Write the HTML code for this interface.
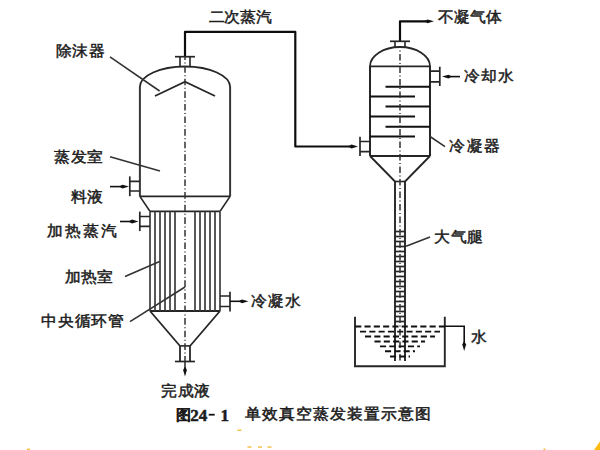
<!DOCTYPE html>
<html><head><meta charset="utf-8"><style>
html,body{margin:0;padding:0;background:#fff;width:600px;height:450px;overflow:hidden}
svg{display:block}
text{font-family:"Liberation Sans",sans-serif;fill:#1c1c1c;stroke:#1c1c1c;stroke-width:0.4px}
</style></head><body>
<svg width="600" height="450" viewBox="0 0 600 450">
<g fill="none" stroke="#262626" stroke-linecap="butt">
<path d="M185,57 V31.8 H295.3 V146.5 H350" stroke-width="2.2" stroke="#0d0d0d" stroke-linejoin="round"/>
<path d="M348,146.5 L351.5,144.6 L358,146.5 L351.5,148.4 Z" fill="#111" stroke="none"/>
<path d="M175,56.7 H195" stroke-width="1.7" />
<path d="M180,56.7 V66.6 M190,56.7 V66.6" stroke-width="1.6" />
<path d="M139.9,87 A45.1,20.5 0 0 1 230.1,87" stroke-width="1.8" />
<path d="M139.9,86.5 V196.4 M230.1,86.5 V196.4" stroke-width="2.0" stroke="#383838" />
<path d="M139.9,196.4 H230.1" stroke-width="1.9" />
<path d="M139.9,196.4 L150,211.4 M230.1,196.4 L220,211.4" stroke-width="1.7" />
<path d="M150,211.4 H220" stroke-width="1.9" />
<path d="M150,311 H220" stroke-width="1.9" />
<path d="M150,211.4 V311" stroke-width="1.7" stroke="#3c3c3c" />
<path d="M155,211.4 V311" stroke-width="1.7" stroke="#3c3c3c" />
<path d="M160,211.4 V311" stroke-width="1.7" stroke="#3c3c3c" />
<path d="M165,211.4 V311" stroke-width="1.7" stroke="#3c3c3c" />
<path d="M170,211.4 V311" stroke-width="1.7" stroke="#3c3c3c" />
<path d="M175,211.4 V311" stroke-width="1.7" stroke="#3c3c3c" />
<path d="M195,211.4 V311" stroke-width="1.7" stroke="#3c3c3c" />
<path d="M200,211.4 V311" stroke-width="1.7" stroke="#3c3c3c" />
<path d="M205,211.4 V311" stroke-width="1.7" stroke="#3c3c3c" />
<path d="M210,211.4 V311" stroke-width="1.7" stroke="#3c3c3c" />
<path d="M215,211.4 V311" stroke-width="1.7" stroke="#3c3c3c" />
<path d="M220,211.4 V311" stroke-width="1.7" stroke="#3c3c3c" />
<path d="M150,311 L180,346 M220,311 L190,346" stroke-width="1.8" />
<path d="M180,346 V361.5 M190,346 V361.5" stroke-width="1.8" />
<path d="M180,345.9 H190" stroke-width="1.6" />
<path d="M175,361.5 H195" stroke-width="1.7" />
<path d="M185,361.5 V369" stroke-width="1.5" />
<path d="M185,366.5 L183.1,370.0 L185,376.5 L186.9,370.0 Z" fill="#111" stroke="none"/>
<path d="M155,96 L185,81.7 L215,96" stroke-width="1.8" />
<path d="M129.8,176.4 V196.2" stroke-width="1.7" />
<path d="M129.8,181.3 H139.9 M129.8,191 H139.9" stroke-width="1.7" />
<path d="M110,186.6 H122" stroke-width="1.6" stroke="#111" />
<path d="M119,186.6 L122.5,184.7 L129,186.6 L122.5,188.5 Z" fill="#111" stroke="none"/>
<path d="M139.8,211.6 V231.1" stroke-width="1.7" />
<path d="M139.8,216.5 H150 M139.8,226.4 H150" stroke-width="1.7" />
<path d="M120,221.5 H131" stroke-width="1.6" stroke="#111" />
<path d="M128.5,221.5 L132.0,219.6 L138.5,221.5 L132.0,223.4 Z" fill="#111" stroke="none"/>
<path d="M230,291.7 V311.5" stroke-width="1.7" />
<path d="M220,296 H230 M220,306.5 H230" stroke-width="1.7" />
<path d="M230,301.3 H241" stroke-width="1.6" stroke="#111" />
<path d="M238.5,301.3 L242.0,299.40000000000003 L248.5,301.3 L242.0,303.2 Z" fill="#111" stroke="none"/>
<path d="M185,57 V361" stroke-width="1.5" stroke="#333" stroke-dasharray="6.6 2.5 1 2.5" stroke-dashoffset="3.5"/>
<path d="M110,56.8 L159.6,91" stroke-width="1.6" stroke="#333" />
<path d="M110,156.7 L160,171.1" stroke-width="1.6" stroke="#333" />
<path d="M125,276.4 L159.6,261.6" stroke-width="1.6" stroke="#333" />
<path d="M130,321.6 L185,287" stroke-width="1.6" stroke="#333" />
<path d="M400,41.3 V21.3 H426" stroke-width="2.2" stroke="#0d0d0d" stroke-linejoin="round"/>
<path d="M424,21.3 L427.5,19.400000000000002 L434,21.3 L427.5,23.2 Z" fill="#111" stroke="none"/>
<path d="M390,41.3 H410" stroke-width="1.7" />
<path d="M395,41.3 V47 M405,41.3 V47" stroke-width="1.6" />
<path d="M370,66.3 A30,19.3 0 0 1 430,66.3" stroke-width="1.8" />
<path d="M370,66.3 H430" stroke-width="1.8" />
<path d="M370,66 V156 M430,66 V156" stroke-width="2.0" />
<path d="M385.5,86.7 H430" stroke-width="2.0" stroke="#111" />
<path d="M385.5,106.6 H430" stroke-width="2.0" stroke="#111" />
<path d="M385.5,126.7 H430" stroke-width="2.0" stroke="#111" />
<path d="M370,96.4 H415" stroke-width="2.0" stroke="#111" />
<path d="M370,116.5 H415" stroke-width="2.0" stroke="#111" />
<path d="M370,136.5 H415" stroke-width="2.0" stroke="#111" />
<path d="M370,156 H430" stroke-width="1.9" />
<path d="M370,156 L395,181.5 M430,156 L405,181.5" stroke-width="1.8" />
<path d="M395,181.5 H405" stroke-width="1.6" />
<path d="M395,181.5 V361 M405,181.5 V361" stroke-width="1.9" />
<path d="M395,231.5 H405" stroke-width="1.7" />
<path d="M395,236.5 H405" stroke-width="1.7" />
<path d="M395,241.5 H405" stroke-width="1.7" />
<path d="M395,246.5 H405" stroke-width="1.7" />
<path d="M395,251.5 H405" stroke-width="1.7" />
<path d="M395,256.5 H405" stroke-width="1.7" />
<path d="M395,261.5 H405" stroke-width="1.7" />
<path d="M395,266.5 H405" stroke-width="1.7" />
<path d="M395,271.5 H405" stroke-width="1.7" />
<path d="M395,276.5 H405" stroke-width="1.7" />
<path d="M395,281.5 H405" stroke-width="1.7" />
<path d="M395,286.5 H405" stroke-width="1.7" />
<path d="M395,291.5 H405" stroke-width="1.7" />
<path d="M395,296.5 H405" stroke-width="1.7" />
<path d="M395,301.5 H405" stroke-width="1.7" />
<path d="M395,306.5 H405" stroke-width="1.7" />
<path d="M395,311.5 H405" stroke-width="1.7" />
<path d="M395,316.5 H405" stroke-width="1.7" />
<path d="M395,321.5 H405" stroke-width="1.7" />
<path d="M400,47 V361" stroke-width="1.5" stroke="#333" stroke-dasharray="6.5 2.5 1 2.5" stroke-dashoffset="5.5"/>
<path d="M439.8,66.7 V86" stroke-width="1.7" />
<path d="M430,71.1 H439.8 M430,81.8 H439.8" stroke-width="1.7" />
<path d="M449,76.6 H460" stroke-width="1.6" stroke="#111" />
<path d="M452,76.6 L448.5,74.69999999999999 L442,76.6 L448.5,78.5 Z" fill="#111" stroke="none"/>
<path d="M360,136.7 V156" stroke-width="1.7" />
<path d="M360,141.5 H370 M360,151.6 H370" stroke-width="1.7" />
<path d="M430,136.5 L445,146.6" stroke-width="1.6" stroke="#333" />
<path d="M406,246.3 L430,237" stroke-width="1.6" stroke="#333" />
<path d="M355,316.8 V366.3 H444.8 V316.8" stroke-width="1.9" />
<path d="M444.8,326.3 H464.2 V344" stroke-width="1.6" stroke="#111" />
<path d="M464.2,341 L462.3,344.5 L464.2,351 L466.09999999999997,344.5 Z" fill="#111" stroke="none"/>
<path d="M355.2,326.5 H445" stroke-width="1.9" stroke="#111" stroke-dasharray="6.1 3.2"/>
<path d="M360,331.6 H440" stroke-width="1.9" stroke="#111" stroke-dasharray="6.1 3.2"/>
<path d="M365,336.5 H435" stroke-width="1.9" stroke="#111" stroke-dasharray="6.1 3.2"/>
<path d="M374.5,341.5 H425" stroke-width="1.9" stroke="#111" stroke-dasharray="6.1 3.2"/>
<path d="M380,346.4 H420" stroke-width="1.9" stroke="#111" stroke-dasharray="6.1 3.2"/>
<path d="M385,351.3 H415" stroke-width="1.9" stroke="#111" stroke-dasharray="6.1 3.2"/>
<path d="M390,356.5 H410" stroke-width="1.9" stroke="#111" stroke-dasharray="6.1 3.2"/>
<path d="M208.7,414.7 H214.7" stroke-width="1.8" stroke="#111"/>
</g>
<g>
<text transform="translate(208.80,21.62) scale(1,0.95)" font-size="16" style="letter-spacing:-0.77px;stroke-width:0.5px">二次蒸汽</text>
<text transform="translate(55.60,56.43) scale(1,0.95)" font-size="16" style="letter-spacing:0.10px;stroke-width:0.5px">除沫器</text>
<text transform="translate(54.40,161.72) scale(1,0.95)" font-size="16" style="letter-spacing:-0.25px;stroke-width:0.5px">蒸发室</text>
<text transform="translate(71.30,201.88) scale(1,0.95)" font-size="16" style="letter-spacing:-0.70px;stroke-width:0.5px">料液</text>
<text transform="translate(46.50,235.88) scale(1,0.95)" font-size="16" style="letter-spacing:1.67px;stroke-width:0.5px">加热蒸汽</text>
<text transform="translate(65.00,281.93) scale(1,0.95)" font-size="16" style="letter-spacing:-0.65px;stroke-width:0.5px">加热室</text>
<text transform="translate(41.10,326.23) scale(1,0.95)" font-size="16" style="letter-spacing:0.38px;stroke-width:0.5px">中央循环管</text>
<text transform="translate(251.10,306.18) scale(1,0.95)" font-size="16" style="letter-spacing:0.30px;stroke-width:0.5px">冷凝水</text>
<text transform="translate(161.20,395.53) scale(1,0.95)" font-size="16" style="letter-spacing:0.20px;stroke-width:0.5px">完成液</text>
<text transform="translate(438.20,21.83) scale(1,0.95)" font-size="16" style="letter-spacing:-0.57px;stroke-width:0.5px">不凝气体</text>
<text transform="translate(464.40,81.22) scale(1,0.95)" font-size="16" style="letter-spacing:0.25px;stroke-width:0.5px">冷却水</text>
<text transform="translate(449.40,151.22) scale(1,0.95)" font-size="16" style="letter-spacing:0.75px;stroke-width:0.5px">冷凝器</text>
<text transform="translate(434.40,242.22) scale(1,0.95)" font-size="16" style="letter-spacing:-0.25px;stroke-width:0.5px">大气腿</text>
<text transform="translate(471.20,341.52) scale(1,0.95)" font-size="16" style="letter-spacing:0.00px;stroke-width:0.5px">水</text>
<text transform="translate(244.90,419.48) scale(1,0.95)" font-size="16" style="letter-spacing:0.56px;stroke-width:0.55px">单效真空蒸发装置示意图</text>
<text x="175.6" y="419.6" font-size="15" style="font-weight:bold;stroke-width:0.2px">图</text>
<text x="190.3" y="420.7" style="font-family:'Liberation Serif',serif;font-weight:bold;font-size:17px;stroke-width:0.5px">24</text>
<text x="220.5" y="420.7" style="font-family:'Liberation Serif',serif;font-weight:bold;font-size:17px;stroke-width:0.5px">1</text>
</g>
<rect x="237.5" y="429.5" width="4" height="1.5" fill="#f6c24a"/>
<rect x="247.5" y="446.3" width="4" height="1.5" fill="#f6c24a"/>
<rect x="258" y="446.3" width="4" height="1.5" fill="#f6c24a"/>
<rect x="267.5" y="446.3" width="4" height="1.5" fill="#f6c24a"/>
<rect x="27" y="448.5" width="3" height="1.5" fill="#f6c24a"/>
<rect x="543.5" y="448.5" width="2" height="1.5" fill="#f6c24a"/>
<path d="M594,450 L600,441.5 L600,450 Z" fill="#fdbb10"/>
</svg>
</body></html>
